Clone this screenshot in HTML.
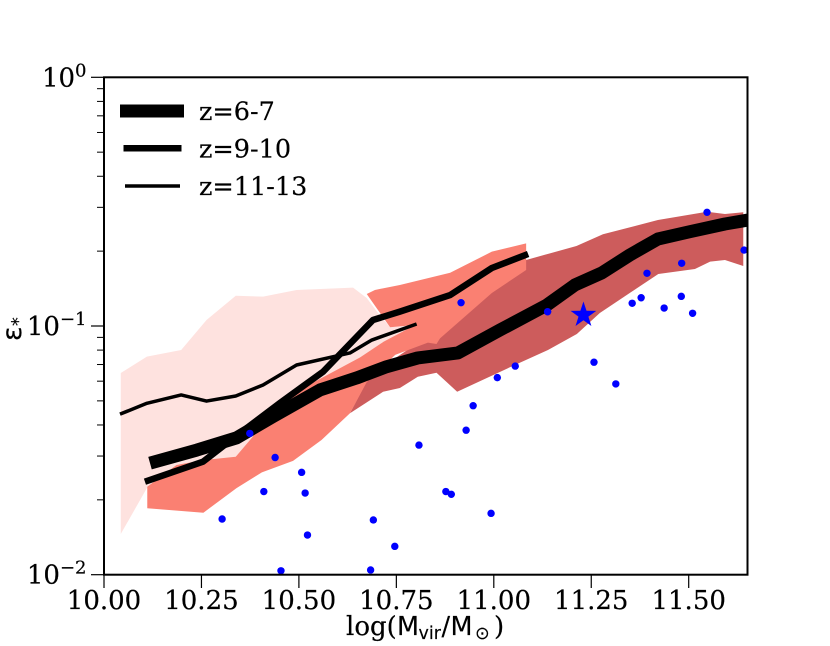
<!DOCTYPE html>
<html>
<head>
<meta charset="utf-8">
<style>
html,body{margin:0;padding:0;background:#fff;}
svg{display:block;}
.serif{font-family:"DejaVu Serif","Liberation Serif",serif;font-size:26px;fill:#000;stroke:#000;stroke-width:0.2px;}
.legend-text{font-size:25.5px;}
.sans{font-family:"DejaVu Sans","Liberation Sans",sans-serif;font-size:25.5px;fill:#000;stroke:#000;stroke-width:0.15px;}
</style>
</head>
<body>
<svg id="chart" width="830" height="646" viewBox="0 0 830 646" xmlns="http://www.w3.org/2000/svg">
<defs><clipPath id="plot-clip"><rect x="104" y="77.3" width="643.5" height="497.5"></rect></clipPath></defs>
<g id="plot" clip-path="url(#plot-clip)"></g>
<g id="axes"></g>
<g>
<line x1="120" x2="184" y1="111" y2="111" stroke="#000" stroke-width="13"></line>
<text class="serif legend-text" x="199" y="120">z=6-7</text>
<line x1="123.5" x2="181.5" y1="148.3" y2="148.3" stroke="#000" stroke-width="6.5"></line>
<text class="serif legend-text" x="199" y="157.5">z=9-10</text>
<line x1="125" x2="180" y1="186" y2="186" stroke="#000" stroke-width="3.5"></line>
<text class="serif legend-text" x="199" y="195">z=11-13</text>
</g>
<g>
<text class="serif" x="346" y="635">log(</text>
<text class="sans" x="397" y="635">M</text>
<text class="sans" x="418.5" y="639" style="font-size:17.5px">vir</text>
<text class="sans" x="441.5" y="635">/</text>
<text class="sans" x="450.5" y="635">M</text>
<text class="sans" x="475" y="639" style="font-size:17.5px">⊙</text>
<text class="serif" x="494" y="635">)</text>
</g>
<g transform="translate(21,341) rotate(-90)">
<text class="sans" x="0" y="0" style="font-size:27px">ε</text>
<text class="sans" x="15" y="3" style="font-size:17.5px">*</text>
</g>
</svg>
<script>
// ---- chart data ----
const xTickValues = [10.00, 10.25, 10.50, 10.75, 11.00, 11.25, 11.50];
const xTickLabels = ["10.00", "10.25", "10.50", "10.75", "11.00", "11.25", "11.50"];
const yMajorTicks = [1, 0.1, 0.01];
const yMajorExponents = ["0", "−1", "−2"];
const yMinorMultipliers = [2, 3, 4, 5, 6, 7, 8, 9];

const lineZ67X = [10.118,10.238,10.340,10.433,10.554,10.648,10.725,10.805,10.908,11.016,11.136,11.208,11.277,11.349,11.421,11.503,11.593,11.660];
const lineZ67Y = [0.0281,0.0317,0.0355,0.0432,0.0553,0.0618,0.0686,0.0744,0.0779,0.0964,0.1214,0.1462,0.1634,0.1930,0.2238,0.2395,0.2571,0.2680];
const lineZ910X = [10.105,10.254,10.339,10.451,10.562,10.690,10.759,10.888,10.995,11.088];
const lineZ910Y = [0.02365,0.02846,0.0361,0.0490,0.0655,0.1057,0.1142,0.1332,0.1711,0.1948];
const lineZ1113X = [10.041,10.110,10.198,10.263,10.338,10.408,10.494,10.631,10.687,10.802];
const lineZ1113Y = [0.0442,0.0489,0.0528,0.0499,0.0523,0.0579,0.0697,0.0779,0.0878,0.1019];

const bandPinkX = [10.043,10.110,10.198,10.263,10.338,10.408,10.494,10.639,10.674,10.703,10.734,10.798,10.716,10.657,10.469,10.338,10.254,10.186,10.110,10.043];
const bandPinkY = [0.0647,0.0753,0.0801,0.1057,0.1324,0.1312,0.1396,0.1426,0.1296,0.1128,0.0988,0.1009,0.0862,0.0748,0.0520,0.0297,0.0287,0.0276,0.0223,0.01457];
const bandSalmonX = [10.111,10.111,10.186,10.254,10.338,10.469,10.657,10.717,10.798,10.734,10.674,10.695,10.759,10.888,10.995,11.083,11.083,10.995,10.862,10.853,10.831,10.747,10.674,10.631,10.558,10.485,10.405,10.340,10.255];
const bandSalmonY = [0.01849,0.02258,0.0276,0.0289,0.0298,0.0520,0.0748,0.0864,0.1009,0.0988,0.1345,0.1396,0.1462,0.1638,0.1990,0.2150,0.1680,0.1357,0.0892,0.0846,0.0857,0.0765,0.0595,0.0446,0.0348,0.0287,0.0258,0.0223,0.01775];
const bandRedX = [10.631,10.682,10.836,11.083,11.144,11.212,11.280,11.421,11.547,11.593,11.640,11.640,11.593,11.555,11.516,11.422,11.354,11.272,11.213,11.139,11.054,10.906,10.853,10.805,10.759,10.716];
const bandRedY = [0.0446,0.0635,0.0920,0.1843,0.1960,0.2097,0.2337,0.2668,0.2881,0.2820,0.2865,0.1743,0.1843,0.1814,0.1695,0.1618,0.1374,0.1128,0.0929,0.0801,0.0697,0.0544,0.0649,0.0625,0.0563,0.0544];

const pointX = [10.374,10.439,10.507,10.410,10.516,10.303,10.691,10.522,10.746,10.454,10.684,10.947,10.929,10.808,10.877,10.891,10.993,11.547,11.642,11.482,11.393,10.916,11.138,11.481,11.378,11.355,11.437,11.510,11.257,11.313,11.055,11.009];
const pointY = [0.0370,0.0296,0.0258,0.0216,0.0213,0.01675,0.0166,0.01444,0.0130,0.01037,0.01045,0.0478,0.0381,0.0332,0.0216,0.02105,0.01765,0.2865,0.202,0.1787,0.1629,0.1241,0.1142,0.1316,0.1299,0.1234,0.1181,0.1125,0.0715,0.0585,0.0690,0.0620];
const starX = [11.230];
const starY = [0.1107];

// ---- axis functions ----
function sx(v){ return 104 + (v - 10) * 389.8; }
function sy(v){ return 326 - Math.log10(v / 0.1) * 248.7; }

const NS = 'http://www.w3.org/2000/svg';
const plot = document.getElementById('plot');
const axes = document.getElementById('axes');
function mk(tag, attrs, parent){
  const el = document.createElementNS(NS, tag);
  for (const k in attrs) el.setAttribute(k, attrs[k]);
  parent.appendChild(el);
  return el;
}
function pts(xs, ys){ return xs.map((x, i) => sx(x).toFixed(2) + ',' + sy(ys[i]).toFixed(2)).join(' '); }

const redBand = mk('polygon', {points: pts(bandRedX, bandRedY), fill: '#cd5c5c'}, plot);


const pinkBand = mk('polygon', {points: pts(bandPinkX, bandPinkY), fill: '#fee2df'}, plot);


const salmonBand = mk('polygon', {points: pts(bandSalmonX, bandSalmonY), fill: '#fa8072'}, plot);



pointX.forEach((x, i) => {
  const c = mk('circle', {cx: sx(x).toFixed(2), cy: sy(pointY[i]).toFixed(2), r: 3.7, fill: '#0000ff'}, plot);
  
  
});

const lineAttrs = {fill: 'none', stroke: '#000', 'stroke-linejoin': 'round', 'stroke-linecap': 'butt'};
const lineThin = mk('polyline', Object.assign({points: pts(lineZ1113X, lineZ1113Y), 'stroke-width': 3.5}, lineAttrs), plot);


const lineMid = mk('polyline', Object.assign({points: pts(lineZ910X, lineZ910Y), 'stroke-width': 6.5}, lineAttrs), plot);


const lineThick = mk('polyline', Object.assign({points: pts(lineZ67X, lineZ67Y), 'stroke-width': 13}, lineAttrs), plot);



// redraw the overlapping dots that sit above the lines in the reference
[0, 22].forEach(i => {
  const c = mk('circle', {cx: sx(pointX[i]).toFixed(2), cy: sy(pointY[i]).toFixed(2), r: 3.7, fill: '#0000ff'}, plot);
  
  
});

// five-pointed star
starX.forEach((x, i) => {
  const cx = sx(x), cy = sy(starY[i]), R = 13.5, r = 5.2;
  const p = [];
  for (let k = 0; k < 10; k++) {
    const a = -Math.PI / 2 + k * Math.PI / 5, m = k % 2 ? r : R;
    p.push((cx + m * Math.cos(a)).toFixed(2) + ',' + (cy + m * Math.sin(a)).toFixed(2));
  }
  const s = mk('polygon', {points: p.join(' '), fill: '#0000ff'}, plot);
  
  
});

// frame
const frame = mk('rect', {x: 104, y: sy(1), width: 643.5, height: sy(0.01) - sy(1), fill: 'none', stroke: '#000', 'stroke-width': 2}, axes);



// x ticks
xTickValues.forEach((v, i) => {
  const x = sx(v);
  const t = mk('line', {x1: x, x2: x, y1: 575, y2: 588, stroke: '#000', 'stroke-width': 1.2}, axes);
  
  
  const l = mk('text', {x: x, y: 609, 'text-anchor': 'middle', class: 'serif'}, axes);
  l.textContent = xTickLabels[i];
  
  
});

// y ticks
yMajorTicks.forEach((v, i) => {
  const y = sy(v);
  const t = mk('line', {x1: 91, x2: 104, y1: y, y2: y, stroke: '#000', 'stroke-width': 1.2}, axes);
  
  
  const l = mk('text', {x: 86.5, y: y + 9, 'text-anchor': 'end', class: 'serif'}, axes);
  
  
  l.appendChild(document.createTextNode('10'));
  const e = mk('tspan', {dy: -10, style: 'font-size:18px'}, l);
  e.textContent = yMajorExponents[i];
  if (i < yMajorTicks.length - 1) {
    yMinorMultipliers.forEach(m => {
      const ym = sy(yMajorTicks[i + 1] * m);
      const mt = mk('line', {x1: 97, x2: 104, y1: ym, y2: ym, stroke: '#000', 'stroke-width': 1}, axes);
      
      
    });
  }
});
</script>
</body>
</html>
